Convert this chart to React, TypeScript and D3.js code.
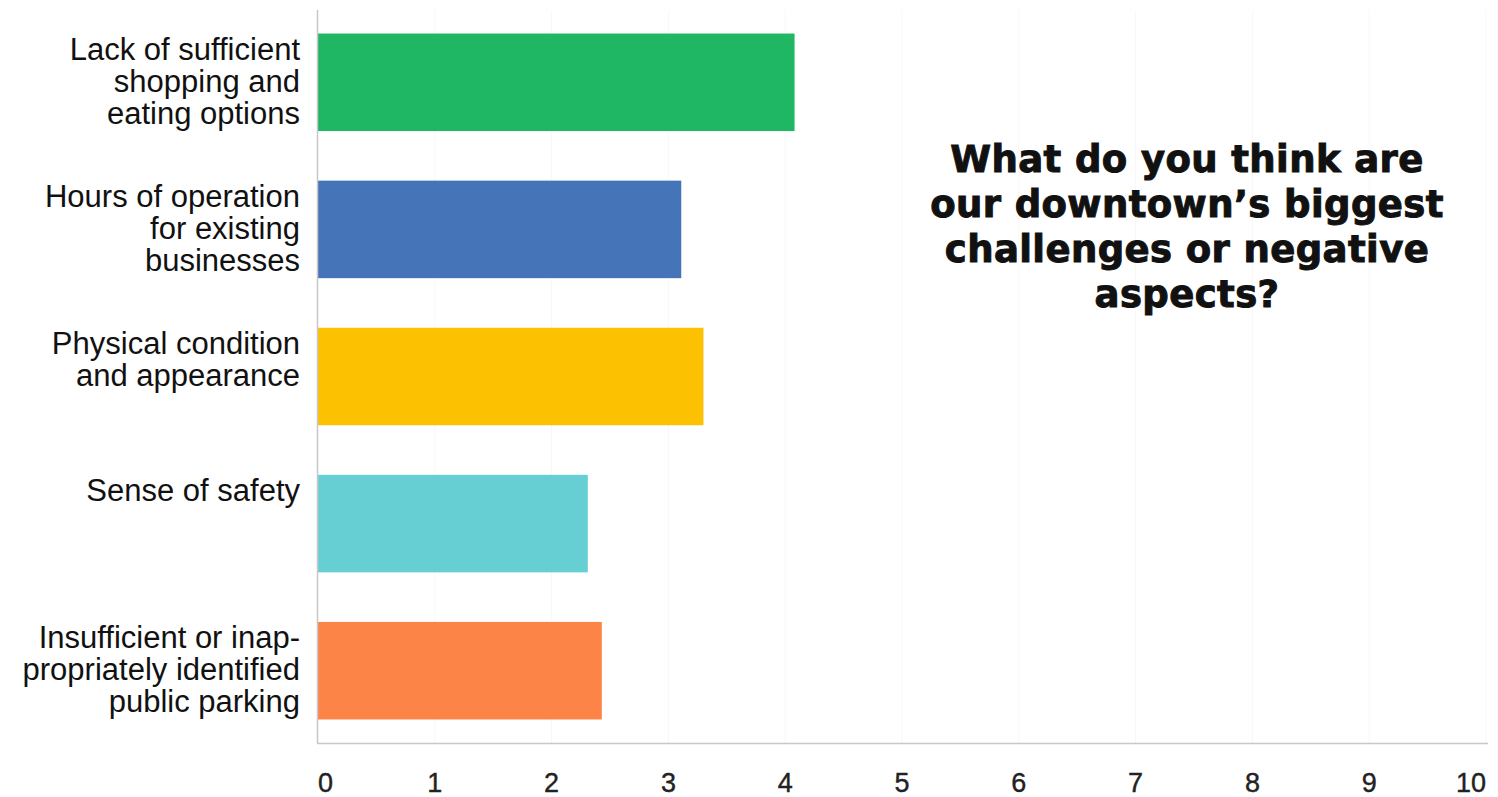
import React from "react";
import * as d3 from "d3";

const categories: string[][] = [
  ["Lack of sufficient", "shopping and", "eating options"],
  ["Hours of operation", "for existing", "businesses"],
  ["Physical condition", "and appearance"],
  ["Sense of safety"],
  ["Insufficient or inap-", "propriately identified", "public parking"],
];
const values: number[] = [4.08, 3.11, 3.3, 2.31, 2.43];
const colors: string[] = ["#1fb664", "#4574b9", "#fcc100", "#66cfd3", "#fd8447"];
const ticks: number[] = [0, 1, 2, 3, 4, 5, 6, 7, 8, 9, 10];
const titleLines: string[] = [
  "What do you think are",
  "our downtown\u2019s biggest",
  "challenges or negative",
  "aspects?",
];

const W = 1498;
const H = 797;

export default function App() {
  const x = d3.scaleLinear().domain([0, 10]).range([318, 1486]);
  const keys = categories.map((c) => c.join(" "));
  const y = d3
    .scaleBand<string>()
    .domain(keys)
    .range([10, 743])
    .paddingInner(0.337)
    .paddingOuter(0.16);
  const labelFont = "'Liberation Sans', Arial, sans-serif";
  return (
    <svg
      width={W}
      height={H}
      style={{ position: "absolute", left: 0, top: 0, background: "#fff" }}
    >
      {ticks.slice(1).map((t) => (
        <line
          key={"g" + t}
          x1={x(t)}
          x2={x(t)}
          y1={10}
          y2={743}
          stroke="#f8f8f8"
          strokeWidth={1}
        />
      ))}
      {keys.map((k, i) => (
        <rect
          key={k}
          x={x(0)}
          y={y(k)}
          width={x(values[i]) - x(0)}
          height={y.bandwidth()}
          fill={colors[i]}
        />
      ))}
      <line x1={317.5} x2={317.5} y1={10} y2={743} stroke="#c8c8c8" strokeWidth={1.5} />
      <line x1={317} x2={1488} y1={743.5} y2={743.5} stroke="#c8c8c8" strokeWidth={1.5} />
      {categories.map((lines, i) => (
        <text
          key={"l" + i}
          x={300}
          y={(y(keys[i]) as number) + 26}
          textAnchor="end"
          fontFamily={labelFont}
          fontSize={31}
          fill="#111"
        >
          {lines.map((ln, j) => (
            <tspan key={j} x={300} dy={j === 0 ? 0 : 32}>
              {ln}
            </tspan>
          ))}
        </text>
      ))}
      {ticks.map((t, i) => (
        <text
          key={"t" + t}
          x={x(t)}
          y={792}
          textAnchor={i === 0 ? "start" : i === ticks.length - 1 ? "end" : "middle"}
          fontFamily={labelFont}
          fontSize={27}
          fill="#222"
          stroke="#222"
          strokeWidth={0.4}
        >
          {t}
        </text>
      ))}
      <text
        x={1187}
        y={172}
        textAnchor="middle"
        fontFamily="'DejaVu Sans', Verdana, sans-serif"
        fontWeight={700}
        fontSize={37}
        letterSpacing={0.4}
        fill="#111"
        stroke="#111"
        strokeWidth={1}
      >
        {titleLines.map((ln, j) => (
          <tspan key={j} x={1187} dy={j === 0 ? 0 : 45}>
            {ln}
          </tspan>
        ))}
      </text>
    </svg>
  );
}
